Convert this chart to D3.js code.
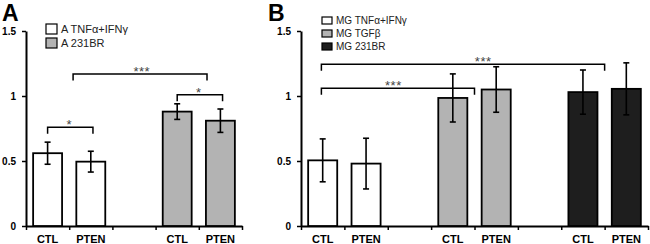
<!DOCTYPE html>
<html>
<head>
<meta charset="utf-8">
<script src="https://cdn.jsdelivr.net/npm/d3@7"></script>
<style>
  body { margin: 0; background: #fff; }
  text { font-family: Arial, "Liberation Sans", sans-serif; }
</style>
</head>
<body>
<div id="chart-area"></div>
<script>
// data
const categories = ['CTL', 'PTEN'];
const yTicks = [0, 0.5, 1, 1.5];

const aSeriesNames = ['A TNF\u03b1+IFN\u03b3', 'A 231BR'];
const aMeans = [[0.56, 0.495], [0.88, 0.81]];
const aErrors = [[0.085, 0.08], [0.06, 0.09]];
// [from slot, to slot, y value, label, label slot]
const aBrackets = [
  [0.5, 1.55, 0.76, '*', 1.0],
  [1.09, 4.19, 1.17, '***', 2.68],
  [3.5, 4.55, 1.01, '*', 4.0]
];

const bSeriesNames = ['MG TNF\u03b1+IFN\u03b3', 'MG TGF\u03b2', 'MG 231BR'];
const bMeans = [[0.505, 0.48], [0.985, 1.05], [1.03, 1.055]];
const bErrors = [[0.165, 0.195], [0.185, 0.175], [0.17, 0.2]];
const bBrackets = [
  [0.47, 4.0, 1.06, '***', 2.13],
  [0.47, 7.0, 1.245, '***', 4.2]
];

const fills = ['#ffffff', '#b3b3b3', '#1e1e1e'];

const svg = d3.select('#chart-area').append('svg')
  .attr('width', 650)
  .attr('height', 244);

function drawPanel(opts) {
  let g = svg.append('g');
  let nGroups = opts.means.length;
  let nSlots = nGroups * 3 - 1;   // CTL, PTEN, gap, CTL, PTEN ...

  let x = d3.scaleLinear()
    .domain([0, nSlots])
    .range([opts.left, opts.right]);

  let y = d3.scaleLinear()
    .domain([0, 1.5])
    .range([226, 31]);

  let slotW = x(1) - x(0);
  let barW = slotW * 0.67;

  // panel letter
  g.append('text')
    .attr('x', opts.titleX)
    .attr('y', 21)
    .attr('font-size', '23px')
    .attr('font-weight', 'bold')
    .text(opts.title);

  // axes
  let xAxisCall = d3.axisBottom(x)
    .tickValues(d3.range(nSlots + 1))
    .tickFormat('')
    .tickSizeInner(4)
    .tickSizeOuter(0);
  let xAxis = g.append('g')
    .attr('transform', 'translate(0, ' + y(0) + ')')
    .call(xAxisCall);

  let yAxisCall = d3.axisLeft(y)
    .tickValues(yTicks)
    .tickFormat(d => d)
    .tickSizeInner(4)
    .tickSizeOuter(0)
    .tickPadding(6);
  let yAxis = g.append('g')
    .attr('transform', 'translate(' + opts.left + ', 0)')
    .call(yAxisCall);

  [xAxis, yAxis].forEach(a => {
    a.select('.domain').attr('stroke-width', 2);
    a.selectAll('.tick line').attr('stroke-width', 1.5);
  });
  yAxis.selectAll('text')
    .attr('font-size', '10px')
    .attr('font-weight', 'bold')
    .attr('fill', '#000');

  // bars
  let bars = [];
  opts.means.forEach((vals, gi) => {
    vals.forEach((v, ci) => {
      bars.push({ slot: gi * 3 + ci, value: v, err: opts.errors[gi][ci], fill: fills[gi] });
    });
  });

  g.selectAll('rect.bar')
    .data(bars)
    .enter()
    .append('rect')
      .attr('class', 'bar')
      .attr('x', d => x(d.slot) + (slotW - barW) / 2)
      .attr('y', d => y(d.value))
      .attr('width', barW)
      .attr('height', d => y(0) - y(d.value))
      .attr('fill', d => d.fill)
      .attr('stroke', '#000')
      .attr('stroke-width', 1.8);

  // error bars
  let eb = g.selectAll('g.err')
    .data(bars)
    .enter()
    .append('g')
      .attr('class', 'err')
      .attr('stroke', '#000')
      .attr('stroke-width', 1.6);
  eb.append('line')
    .attr('x1', d => x(d.slot + 0.5)).attr('x2', d => x(d.slot + 0.5))
    .attr('y1', d => y(d.value - d.err)).attr('y2', d => y(d.value + d.err));
  [-1, 1].forEach(s => {
    eb.append('line')
      .attr('x1', d => x(d.slot + 0.5) - 3).attr('x2', d => x(d.slot + 0.5) + 3)
      .attr('y1', d => y(d.value + s * d.err)).attr('y2', d => y(d.value + s * d.err));
  });

  // category labels
  g.selectAll('text.cat')
    .data(bars)
    .enter()
    .append('text')
      .attr('class', 'cat')
      .attr('x', d => x(d.slot + 0.5))
      .attr('y', 243)
      .attr('text-anchor', 'middle')
      .attr('font-size', '11px')
      .attr('font-weight', 'bold')
      .text(d => categories[d.slot % 3]);

  // significance brackets
  let br = g.selectAll('g.bracket')
    .data(opts.brackets)
    .enter()
    .append('g')
      .attr('class', 'bracket');
  br.append('path')
    .attr('d', d => 'M' + x(d[0]) + ',' + (y(d[2]) + 6.5)
      + 'V' + y(d[2]) + 'H' + x(d[1]) + 'V' + (y(d[2]) + 6.5))
    .attr('fill', 'none')
    .attr('stroke', '#000')
    .attr('stroke-width', 1.5);
  br.append('text')
    .attr('x', d => x(d[4]))
    .attr('y', d => y(d[2]) + 2)
    .attr('text-anchor', 'middle')
    .attr('font-size', '13px')
    .attr('letter-spacing', '0.5px')
    .attr('fill', '#444')
    .text(d => d[3]);

  // legend
  let lg = g.selectAll('g.legend')
    .data(opts.names)
    .enter()
    .append('g')
      .attr('class', 'legend')
      .attr('transform', (d, i) => 'translate(' + opts.legX + ', ' + (opts.legY + i * opts.legStep) + ')');
  lg.append('rect')
    .attr('x', 0).attr('y', -opts.sq[1] / 2)
    .attr('width', opts.sq[0]).attr('height', opts.sq[1])
    .attr('fill', (d, i) => fills[i])
    .attr('stroke', '#000')
    .attr('stroke-width', 1.2);
  lg.append('text')
    .attr('x', opts.sq[0] + 4)
    .attr('y', 0)
    .attr('dy', '0.36em')
    .attr('font-size', opts.legFont)
    .attr('fill', '#222')
    .text(d => d);
}

drawPanel({
  title: 'A', titleX: 2, left: 26, right: 242,
  means: aMeans, errors: aErrors, names: aSeriesNames, brackets: aBrackets,
  legX: 46, legY: 29, legStep: 14, sq: [11, 10], legFont: '11px'
});

drawPanel({
  title: 'B', titleX: 268, left: 301, right: 648,
  means: bMeans, errors: bErrors, names: bSeriesNames, brackets: bBrackets,
  legX: 322, legY: 20.5, legStep: 13, sq: [10, 7], legFont: '10px'
});
</script>
</body>
</html>
